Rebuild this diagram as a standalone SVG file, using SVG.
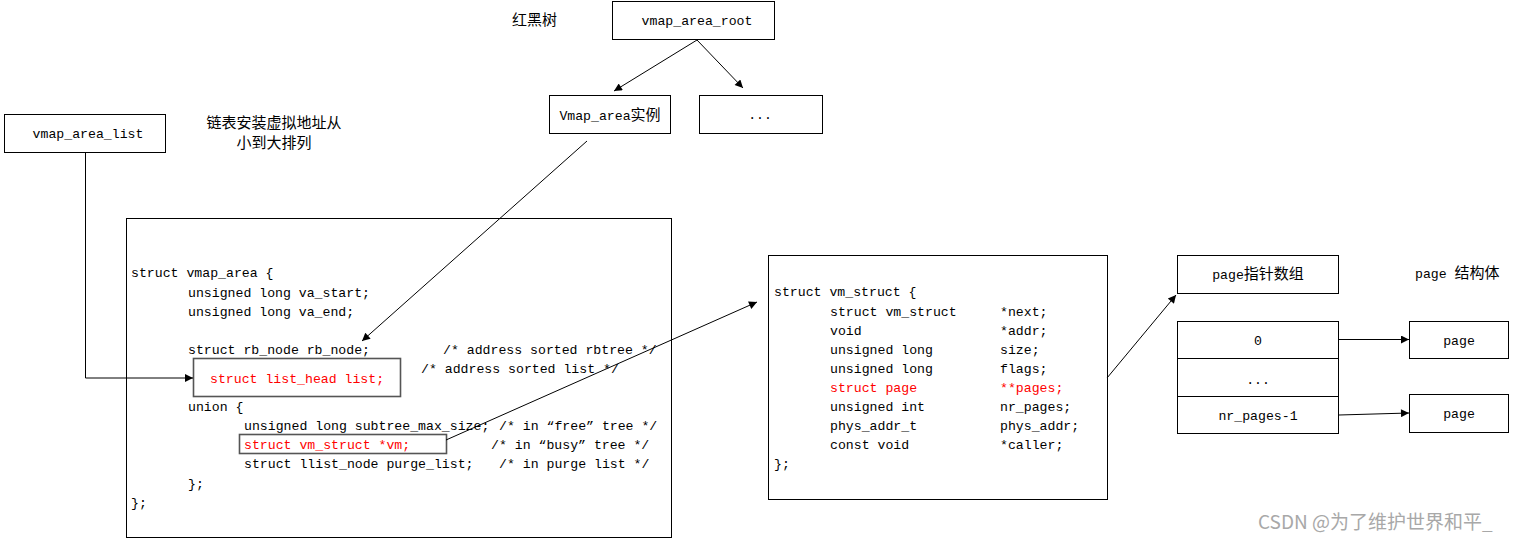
<svg xmlns="http://www.w3.org/2000/svg" width="1514" height="539" viewBox="0 0 1514 539">
<style>
text{font-family:"Liberation Mono","Noto Sans CJK SC",monospace;font-size:13.2px;fill:#000}
.cn{font-family:"Noto Sans CJK SC",sans-serif;font-size:15px}
.c{text-anchor:middle}
.red{fill:#ff0000}
.box{fill:#fff;stroke:#000;stroke-width:1}
.rbox{fill:#fff;stroke:#555;stroke-width:1.6}
.ln{fill:none;stroke:#000;stroke-width:1}
.wm{font-family:"Noto Sans CJK SC",sans-serif;font-size:19px;fill:#a8a8a8}
</style>
<defs>
<marker id="ah" viewBox="0 0 10 10" refX="10" refY="5" markerWidth="10" markerHeight="8" markerUnits="userSpaceOnUse" orient="auto">
<path d="M0,0 L10,5 L0,10 z" fill="#000"/>
</marker>
</defs>
<rect width="1514" height="539" fill="#fff"/>

<g id="label-rbtree"><text class="cn" x="512" y="25">红黑树</text></g>
<g id="label-list"><text class="cn c" x="274" y="128">链表安装虚拟地址从</text><text class="cn c" x="274" y="148">小到大排列</text></g>
<g id="label-page"><text x="1415" y="278">page <tspan class="cn">结构体</tspan></text></g>

<g id="vmap_area_root"><rect class="box" x="612.5" y="1.5" width="162" height="38"/><text class="c" x="697" y="25">vmap_area_root</text></g>
<g id="vmap_area_inst"><rect class="box" x="549.5" y="95.5" width="121" height="38"/><text class="c" x="610" y="120">Vmap_area<tspan class="cn">实例</tspan></text></g>
<g id="tree_more"><rect class="box" x="699.5" y="95.5" width="123" height="38"/><text class="c" x="760" y="119">...</text></g>
<g id="vmap_area_list"><rect class="box" x="4.5" y="114.5" width="161" height="38"/><text class="c" x="88" y="138">vmap_area_list</text></g>

<g id="vmap_area">
<rect class="box" x="126.5" y="218.5" width="545" height="319"/>
<text x="131" y="277">struct vmap_area {</text>
<text x="188" y="297">unsigned long va_start;</text>
<text x="188" y="316">unsigned long va_end;</text>
<text x="188" y="354">struct rb_node rb_node;</text>
<text x="443" y="354">/* address sorted rbtree */</text>
<text x="421" y="373">/* address sorted list */</text>
<text x="188" y="411">union {</text>
<text x="244" y="430">unsigned long subtree_max_size;</text>
<text x="499" y="430">/* in “free” tree */</text>
<text x="491" y="449">/* in “busy” tree */</text>
<text x="244" y="468">struct llist_node purge_list;</text>
<text x="499" y="468">/* in purge list */</text>
<text x="188" y="488">};</text>
<text x="131" y="507">};</text>
</g>
<g id="list_head"><rect class="rbox" x="193.5" y="358.5" width="207" height="38"/><text class="red" x="210" y="383">struct list_head list;</text></g>
<g id="vm_field"><rect class="rbox" x="239.5" y="434.5" width="207" height="19"/><text class="red" x="244" y="449">struct vm_struct *vm;</text></g>

<g id="vm_struct">
<rect class="box" x="768.5" y="255.5" width="339" height="244"/>
<text x="774" y="296">struct vm_struct {</text>
<text x="830" y="316">struct vm_struct</text><text x="1000" y="316">*next;</text>
<text x="830" y="335">void</text><text x="1000" y="335">*addr;</text>
<text x="830" y="354">unsigned long</text><text x="1000" y="354">size;</text>
<text x="830" y="373">unsigned long</text><text x="1000" y="373">flags;</text>
<text class="red" x="830" y="392">struct page</text><text class="red" x="1000" y="392">**pages;</text>
<text x="830" y="411">unsigned int</text><text x="1000" y="411">nr_pages;</text>
<text x="830" y="430">phys_addr_t</text><text x="1000" y="430">phys_addr;</text>
<text x="830" y="449">const void</text><text x="1000" y="449">*caller;</text>
<text x="774" y="468">};</text>
</g>

<g id="page_ptr_array_title"><rect class="box" x="1177.5" y="255.5" width="161" height="38"/><text class="c" x="1258" y="279">page<tspan class="cn">指针数组</tspan></text></g>
<g id="page_ptr_array">
<rect class="box" x="1177.5" y="321.5" width="161" height="112"/>
<line class="ln" x1="1177.5" y1="358.5" x2="1338.5" y2="358.5"/>
<line class="ln" x1="1177.5" y1="396.5" x2="1338.5" y2="396.5"/>
<text class="c" x="1258" y="345">0</text>
<text class="c" x="1258" y="384">...</text>
<text class="c" x="1258" y="420">nr_pages-1</text>
</g>
<g id="page1"><rect class="box" x="1409.5" y="321.5" width="99" height="37"/><text class="c" x="1459" y="345">page</text></g>
<g id="page2"><rect class="box" x="1409.5" y="394.5" width="99" height="38"/><text class="c" x="1459" y="418">page</text></g>

<g id="connectors">
<line class="ln" x1="697" y1="40" x2="614" y2="91" marker-end="url(#ah)"/>
<line class="ln" x1="697" y1="40" x2="743" y2="88" marker-end="url(#ah)"/>
<line class="ln" x1="587" y1="141" x2="362" y2="341" marker-end="url(#ah)"/>
<polyline class="ln" points="85.5,152 85.5,378 193,378" marker-end="url(#ah)"/>
<line class="ln" x1="446" y1="440" x2="757" y2="302" marker-end="url(#ah)"/>
<line class="ln" x1="1107" y1="378" x2="1176" y2="295" marker-end="url(#ah)"/>
<line class="ln" x1="1339" y1="339.5" x2="1409" y2="339.5" marker-end="url(#ah)"/>
<line class="ln" x1="1339" y1="415" x2="1409" y2="413" marker-end="url(#ah)"/>
</g>
<text class="wm" x="1258" y="529">CSDN @为了维护世界和平_</text>
</svg>
